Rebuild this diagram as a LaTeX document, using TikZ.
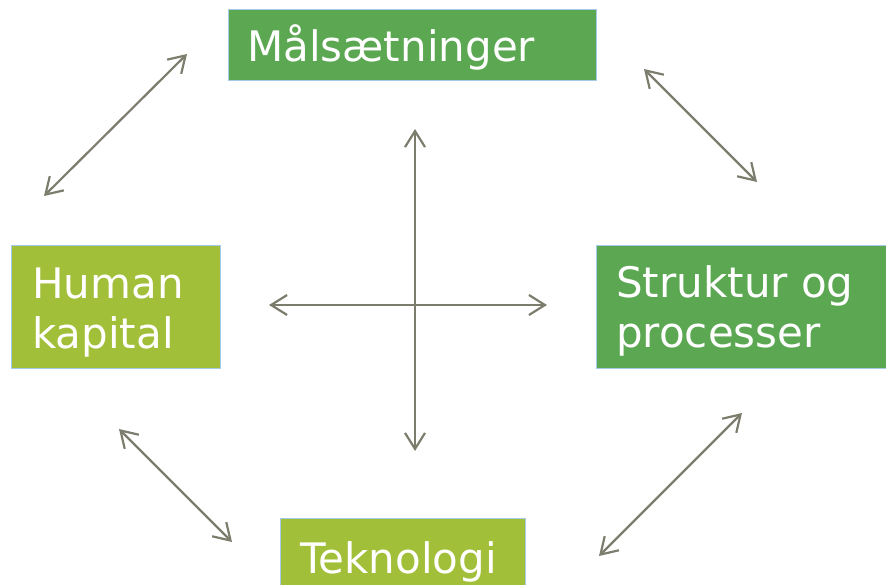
\documentclass[tikz,border=0pt]{standalone}
\usepackage{fontspec}
\setmainfont{DejaVu Sans}
\usetikzlibrary{arrows.meta}
\definecolor{dkgreen}{RGB}{91,167,82}
\definecolor{ltgreen}{RGB}{162,191,57}
\definecolor{edgeblue}{RGB}{166,203,234}
\definecolor{arrowgray}{RGB}{125,125,110}
\tikzset{
  box/.style={draw=edgeblue, line width=0.8pt, anchor=north west, inner sep=0pt},
  lbl/.style={text=white, anchor=base west, inner sep=0pt, align=left,
    font=\fontsize{42}{50}\selectfont},
  link/.style={draw=arrowgray, line width=2.2pt,
    {Straight Barb[length=16pt,width=20pt,line width=2.2pt]}-{Straight Barb[length=16pt,width=20pt,line width=2.2pt]}}
}
\begin{document}
\begin{tikzpicture}[x=1pt,y=-1pt]
\useasboundingbox (0,0) rectangle (886,585);
\node[box, fill=dkgreen, minimum width=368pt, minimum height=71pt] (mal) at (228,9) {};
\node[box, fill=ltgreen, minimum width=209pt, minimum height=123pt] (hum) at (11,245) {};
\node[box, fill=dkgreen, minimum width=310pt, minimum height=123pt] (str) at (596,245) {};
\node[box, fill=ltgreen, minimum width=245pt, minimum height=82pt] (tek) at (280,518) {};
\node[lbl] (malt) at (247,62) {Målsætninger};
\node[lbl] (humt) at (32,348) {Human\\kapital};
\node[lbl] (strt) at (616,347) {Struktur og\\processer};
\node[lbl] (tekt) at (300,573) {Teknologi};
\coordinate (tlA) at (44,196);  \coordinate (tlB) at (187,54);
\coordinate (trA) at (644,69);  \coordinate (trB) at (757,182);
\coordinate (blA) at (119,429); \coordinate (blB) at (232,542);
\coordinate (brA) at (599,556); \coordinate (brB) at (742,413);
\coordinate (vT) at (415,129);  \coordinate (vB) at (415,451);
\coordinate (hL) at (269,305);  \coordinate (hR) at (547,305);
\draw[link] (tlA) -- (tlB);
\draw[link] (trA) -- (trB);
\draw[link] (blA) -- (blB);
\draw[link] (brA) -- (brB);
\draw[link] (vT) -- (vB);
\draw[link] (hL) -- (hR);
\end{tikzpicture}
\end{document}
